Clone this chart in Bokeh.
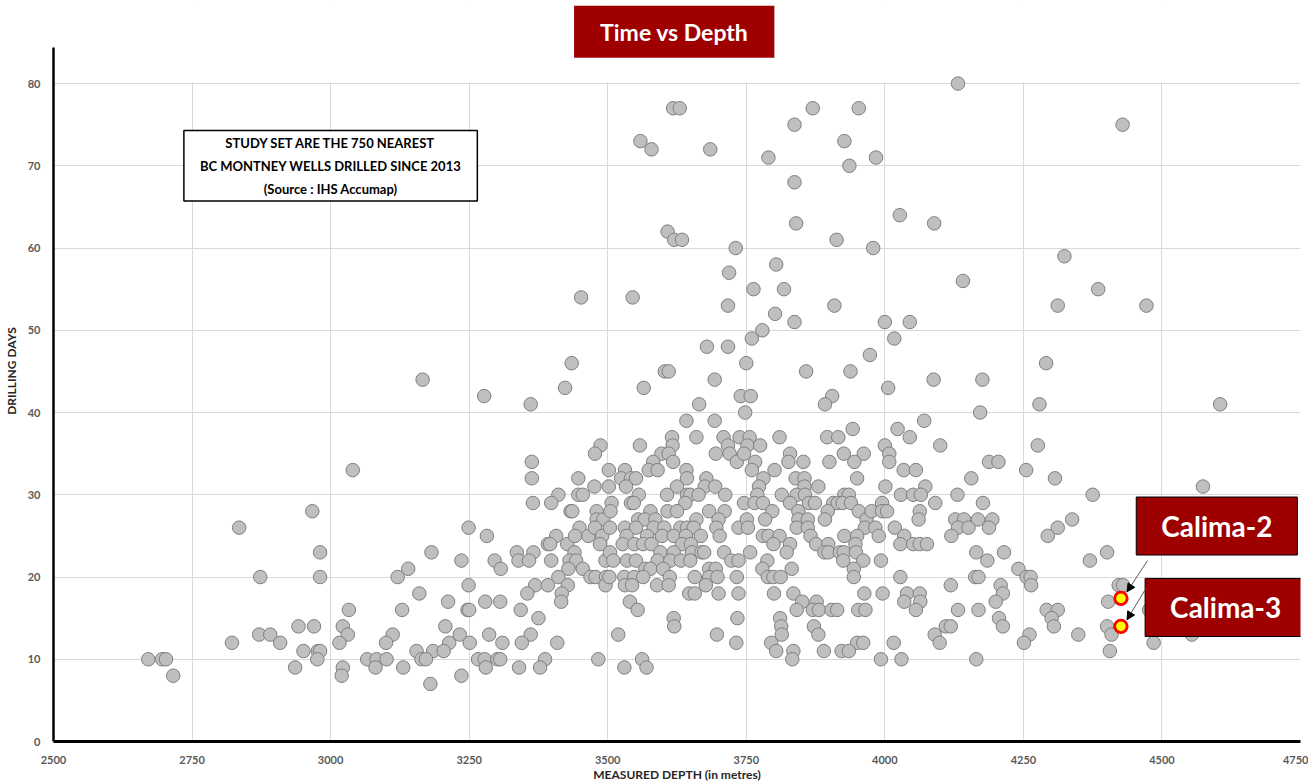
from bokeh.plotting import figure
from bokeh.models import (Range1d, FixedTicker, Label, Arrow, NormalHead,
                          BoxAnnotation, ColumnDataSource)
from bokeh.embed import file_html
from bokeh.resources import INLINE

# ---------------- data ----------------
depth = [
    # 2650-3230 m
    3166, 3040, 2967, 2835, 2981, 2873, 2981, 3182, 3140, 3121, 3160, 3212, 3033, 3129,
    2942, 2970, 3022, 3031, 2871, 2891, 3112, 3207, 2822, 2909, 3016, 3100, 3214, 2951,
    2977, 2981, 3155, 3185, 3204, 2671, 2696, 2703, 2976, 3066, 3083, 3101, 3164, 3172,
    2716, 2936, 3022, 3081, 3131, 3020, 3180,
    # 3230-3500 m
    3435, 3277, 3361, 3423, 3487, 3477, 3363, 3363, 3447, 3476, 3411, 3447, 3455, 3365,
    3398, 3433, 3436, 3480, 3480, 3492, 3249, 3449, 3465, 3477, 3490, 3282, 3407, 3392,
    3396, 3427, 3441, 3486, 3336, 3366, 3440, 3236, 3296, 3339, 3358, 3398, 3431, 3443,
    3496, 3307, 3429, 3455, 3411, 3469, 3478, 3497, 3249, 3369, 3392, 3428, 3496, 3355,
    3417, 3416, 3279, 3306, 3247, 3250, 3343, 3375, 3233, 3286, 3361, 3251, 3310, 3345,
    3409, 3266, 3278, 3301, 3306, 3387, 3483, 3280, 3340, 3378, 3236,
    # 3500-3740 m
    3603, 3610, 3693, 3565, 3665, 3642, 3693, 3558, 3616, 3617, 3660, 3709, 3717, 3597,
    3610, 3695, 3720, 3582, 3618, 3733, 3502, 3574, 3590, 3642, 3531, 3524, 3542, 3551,
    3643, 3678, 3533, 3625, 3675, 3694, 3502, 3556, 3607, 3643, 3649, 3664, 3712, 3507,
    3542, 3547, 3640, 3683, 3577, 3608, 3625, 3711, 3505, 3555, 3567, 3586, 3660, 3700,
    3504, 3531, 3551, 3583, 3602, 3631, 3643, 3655, 3696, 3736, 3534, 3571, 3598, 3619,
    3641, 3668, 3702, 3527, 3548, 3564, 3579, 3634, 3650, 3595, 3619, 3652, 3669, 3674,
    3710, 3504, 3510, 3535, 3551, 3590, 3613, 3632, 3649, 3723, 3736, 3568, 3577, 3600,
    3683, 3695, 3503, 3530, 3548, 3564, 3612, 3657, 3683, 3698, 3733, 3531, 3544, 3589,
    3610, 3677, 3647, 3657, 3700, 3736, 3540, 3554, 3619, 3620, 3734, 3519, 3697, 3732,
    3562, 3530, 3570,
    # 3740-3970 m
    3750, 3858, 3938, 3740, 3758, 3905, 3892, 3748, 3942, 3738, 3756, 3810, 3896, 3916,
    3752, 3775, 3746, 3829, 3926, 3962, 3766, 3826, 3853, 3900, 3945, 3760, 3801, 3839,
    3855, 3950, 3781, 3773, 3855, 3880, 3770, 3814, 3841, 3856, 3927, 3935, 3746, 3765,
    3780, 3829, 3863, 3874, 3907, 3915, 3924, 3939, 3953, 3797, 3844, 3897, 3751, 3784,
    3844, 3861, 3892, 3967, 3753, 3841, 3861, 3964, 3780, 3790, 3810, 3866, 3927, 3950,
    3799, 3829, 3876, 3898, 3947, 3757, 3823, 3891, 3898, 3919, 3926, 3948, 3788, 3925,
    3961, 3779, 3832, 3944, 3789, 3799, 3812, 3944, 3800, 3835, 3963, 3851, 3877, 3841,
    3870, 3881, 3904, 3914, 3952, 3965, 3811, 3813, 3872, 3814, 3880, 3795, 3950, 3961,
    3804, 3835, 3890, 3922, 3935, 3833,
    # 3970-4245 m
    4006, 4088, 4176, 4172, 4071, 4023, 4045, 4000, 4100, 4008, 4008, 4034, 4056, 4188,
    4205, 4156, 4001, 4073, 4029, 4051, 4065, 4131, 3995, 4091, 4177, 3976, 3995, 4004,
    4063, 4061, 4127, 4143, 4168, 4194, 3983, 4018, 4132, 4151, 4188, 3989, 4035, 4120,
    4028, 4051, 4063, 4076, 4165, 4215, 3993, 4185, 4241, 4028, 4163, 4169, 4119, 4209,
    3996, 4040, 4063, 4213, 4035, 4064, 4200, 4056, 4132, 4169, 4206, 4110, 4119, 4213,
    4090, 4016, 4099, 3993, 4030, 4165,
    # 4245-4620 m
    4291, 4279, 4605, 4276, 4255, 4307, 4574, 4375, 4338, 4312, 4294, 4401, 4370, 4256,
    4263, 4264, 4422, 4430, 4403, 4292, 4312, 4301, 4305, 4401, 4477, 4261, 4251, 4349,
    4409, 4485, 4406, 4554,
    # upper part (days > 46)
    3618, 3630, 3559, 3579, 3685, 3608, 3620, 3634, 3731, 3719, 3452, 3545, 3717, 3679,
    3717,
    4132, 3870, 3953, 3837, 4429, 3927, 3790, 3984, 3936, 3837, 4027, 4089, 3840, 3913,
    3979, 4324, 3804, 4141, 3763, 3818, 4385, 3909, 4312, 4472, 3802, 3837, 4000, 4045,
    3779, 3760, 4017, 3973,
]

days = [
    # 2650-3230 m
    44, 33, 28, 26, 23, 20, 20, 23, 21, 20, 18, 17, 16, 16,
    14, 14, 14, 13, 13, 13, 13, 14, 12, 12, 12, 12, 12, 11,
    11, 11, 11, 11, 11, 10, 10, 10, 10, 10, 10, 10, 10, 10,
    8, 9, 9, 9, 9, 8, 7,
    # 3230-3500 m
    46, 42, 41, 43, 36, 35, 34, 32, 32, 31, 30, 30, 30, 29,
    29, 28, 28, 28, 27, 27, 26, 26, 25, 26, 25, 25, 25, 24,
    24, 24, 25, 24, 23, 23, 23, 22, 22, 22, 22, 22, 22, 22,
    22, 21, 21, 21, 20, 20, 20, 20, 19, 19, 19, 19, 19, 18,
    18, 17, 17, 17, 16, 16, 16, 15, 13, 13, 13, 12, 12, 12,
    12, 10, 10, 10, 10, 10, 10, 9, 9, 9, 8,
    # 3500-3740 m
    45, 45, 44, 43, 41, 39, 39, 36, 37, 36, 37, 37, 36, 35,
    35, 35, 35, 34, 34, 34, 33, 33, 33, 33, 33, 32, 32, 32,
    32, 32, 31, 31, 31, 31, 31, 30, 30, 30, 30, 30, 30, 29,
    29, 29, 29, 28, 28, 28, 28, 28, 28, 27, 27, 27, 27, 27,
    26, 26, 26, 26, 26, 26, 26, 26, 26, 26, 25, 25, 25, 25,
    25, 25, 25, 24, 24, 24, 24, 24, 24, 23, 23, 23, 23, 23,
    23, 23, 22, 22, 22, 22, 22, 22, 22, 22, 22, 21, 21, 21,
    21, 21, 20, 20, 20, 20, 20, 20, 20, 20, 20, 19, 19, 19,
    19, 19, 18, 18, 18, 18, 17, 16, 15, 14, 15, 13, 13, 12,
    10, 9, 9,
    # 3740-3970 m
    46, 45, 45, 42, 42, 42, 41, 40, 38, 37, 37, 37, 37, 37,
    36, 36, 35, 35, 35, 35, 34, 34, 34, 34, 34, 33, 33, 32,
    32, 32, 32, 31, 31, 31, 30, 30, 30, 30, 30, 30, 29, 29,
    29, 29, 29, 29, 29, 29, 29, 29, 28, 28, 28, 28, 27, 27,
    27, 27, 27, 27, 26, 26, 26, 26, 25, 25, 25, 25, 25, 25,
    24, 24, 24, 24, 24, 23, 23, 23, 23, 23, 23, 23, 22, 22,
    22, 21, 21, 21, 20, 20, 20, 20, 18, 18, 18, 17, 17, 16,
    16, 16, 16, 16, 16, 16, 15, 14, 14, 13, 13, 12, 12, 12,
    11, 11, 11, 11, 11, 10,
    # 3970-4245 m
    43, 44, 44, 40, 39, 38, 37, 36, 36, 35, 34, 33, 33, 34,
    34, 32, 31, 31, 30, 30, 30, 30, 29, 29, 29, 28, 28, 28,
    28, 27, 27, 27, 27, 27, 26, 26, 26, 26, 26, 25, 25, 25,
    24, 24, 24, 24, 23, 23, 22, 22, 21, 20, 20, 20, 19, 19,
    18, 18, 18, 18, 17, 17, 17, 16, 16, 16, 15, 14, 14, 14,
    13, 12, 12, 10, 10, 10,
    # 4245-4620 m
    46, 41, 41, 36, 33, 32, 31, 30, 27, 26, 25, 23, 22, 20,
    20, 19, 19, 19, 17, 16, 16, 15, 14, 14, 16, 13, 12, 13,
    13, 12, 11, 13,
    # upper part (days > 46)
    77, 77, 73, 72, 72, 62, 61, 61, 60, 57, 54, 54, 53, 48,
    48,
    80, 77, 77, 75, 75, 73, 71, 71, 70, 68, 64, 63, 63, 61,
    60, 59, 58, 56, 55, 55, 55, 53, 53, 53, 52, 51, 51, 51,
    50, 49, 49, 47,
]

calima_names = ["Calima-2", "Calima-3"]
calima_depth = [4426, 4426]
calima_days = [17.4, 14.0]

x_ticks = [2500, 2750, 3000, 3250, 3500, 3750, 4000, 4250, 4500, 4750]
y_ticks = [0, 10, 20, 30, 40, 50, 60, 70, 80]

title_text = "Time vs Depth"
note_lines = ["STUDY SET ARE THE 750 NEAREST",
              "BC MONTNEY WELLS DRILLED SINCE 2013",
              "(Source : IHS Accumap)"]
x_label = "MEASURED DEPTH (in metres)"
y_label = "DRILLING DAYS"

# ---------------- figure ----------------
FONT = "Lato"
DARK_RED = "#9e0000"

p = figure(width=1308, height=784, title=None,
           x_range=Range1d(2500, 4750), y_range=Range1d(0, 90.1),
           output_backend="svg", toolbar_location=None,
           min_border_left=40, min_border_right=8,
           min_border_top=0, min_border_bottom=10)
p.outline_line_color = None
p.background_fill_color = "white"
p.border_fill_color = "white"

# grid
for g, t in ((p.xgrid, x_ticks), (p.ygrid, y_ticks)):
    g.ticker = FixedTicker(ticks=t)
    g.grid_line_color = "#d9d9d9"
    g.grid_line_width = 1

# hide vertical grid lines above the 80 line
p.add_layout(BoxAnnotation(bottom=80.12, fill_color="white", fill_alpha=1.0,
                           line_color=None, line_alpha=0, level="underlay"))

# axes
p.xaxis.ticker = FixedTicker(ticks=x_ticks)
p.yaxis.ticker = FixedTicker(ticks=y_ticks)
for ax in (p.xaxis[0], p.yaxis[0]):
    ax.major_tick_line_color = None
    ax.minor_tick_line_color = None
    ax.axis_line_color = "black"
    ax.major_label_text_font = FONT
    ax.major_label_text_font_style = "bold"
    ax.major_label_text_font_size = "11px"
    ax.major_label_text_color = "#595959"
    ax.axis_label_text_font = FONT
    ax.axis_label_text_font_style = "bold"
    ax.axis_label_text_font_size = "12px"
    ax.axis_label_text_color = "#262626"
p.xaxis.axis_line_width = 3
p.yaxis.axis_line_width = 2.5
p.yaxis.bounds = (0, 84.4)
p.xaxis.axis_label = x_label
p.yaxis.axis_label = y_label
p.xaxis.major_label_standoff = 8
p.xaxis.axis_label_standoff = 0
p.yaxis.major_label_standoff = 7
p.yaxis.axis_label_standoff = 6

# wells
src = ColumnDataSource(dict(depth=depth, days=days))
p.scatter(x="depth", y="days", source=src, size=13.5,
          fill_color="#bfbfbf", line_color="#7f7f7f", line_width=1)

# Calima wells
csrc = ColumnDataSource(dict(depth=calima_depth, days=calima_days, name=calima_names))
p.scatter(x="depth", y="days", source=csrc, size=12.5,
          fill_color="#ffff00", line_color="#ff0000", line_width=2.8)

# title box
p.add_layout(Label(x=3620, y=86.3, text=title_text, text_align="center",
                   text_baseline="middle", text_color="white", text_font=FONT,
                   text_font_style="bold", text_font_size="23px",
                   background_fill_color=DARK_RED, background_fill_alpha=1.0,
                   padding=dict(left=26, right=26, top=12, bottom=12)))

# note box
p.add_layout(Label(x=3000, y=70.0, text="\n".join(note_lines), text_align="center",
                   text_baseline="middle", text_color="black", text_font=FONT,
                   text_font_style="bold", text_font_size="13px",
                   text_line_height=1.45,
                   background_fill_color="white", background_fill_alpha=1.0,
                   border_line_color="black", border_line_width=1.5,
                   padding=dict(left=16, right=16, top=4, bottom=4)))

# Calima callouts
for (lx, ly), name in zip(((4599, 26.2), (4615, 16.3)), calima_names):
    p.add_layout(Label(x=lx, y=ly, text=name, text_align="center",
                       text_baseline="middle", text_color="white", text_font=FONT,
                       text_font_style="bold", text_font_size="28px",
                       background_fill_color=DARK_RED, background_fill_alpha=1.0,
                       border_line_color="black", border_line_width=1,
                       padding=dict(left=25, right=25, top=12, bottom=12)))

for (xs, ys, xe, ye) in ((4474, 22.0, 4437, 18.2), (4471, 18.6, 4437, 14.8)):
    p.add_layout(Arrow(end=NormalHead(size=8, fill_color="black", line_color="black"),
                       x_start=xs, y_start=ys, x_end=xe, y_end=ye,
                       line_color="#595959", line_width=1))

open("out.html", "w").write(file_html(p, INLINE))
